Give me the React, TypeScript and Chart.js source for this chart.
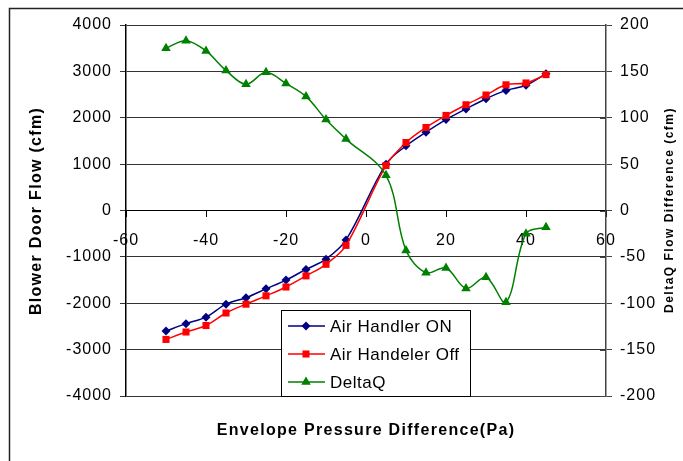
import { useEffect, useRef } from 'react';
import { Chart, registerables } from 'chart.js';

Chart.register(...registerables);

const pressures = [-50, -45, -40, -35, -30, -25, -20, -15, -10, -5, 5, 10, 15, 20, 25, 30, 35, 40, 45];
const airHandlerOn = [-2600, -2440, -2300, -2020, -1880, -1690, -1500, -1270, -1050, -635, 1000, 1394, 1690, 1960, 2190, 2410, 2590, 2700, 2950];
const airHandlerOff = [-2780, -2620, -2480, -2210, -2020, -1840, -1650, -1410, -1160, -752, 970, 1465, 1790, 2050, 2280, 2490, 2710, 2750, 2930];
const deltaQ = [175, 183, 172, 151, 136, 149, 137, 123, 98, 77, 38, -43, -67, -62, -84, -72, -99, -25, -18];

const seriesLabels = ['Air Handler ON', 'Air Handeler Off', 'DeltaQ'];
const xTitle = 'Envelope Pressure Difference(Pa)';
const yTitle = 'Blower Door Flow (cfm)';
const y1Title = 'DeltaQ Flow Difference (cfm)';

const FONT = "'Liberation Sans', Arial, sans-serif";

function drawMarker(ctx: CanvasRenderingContext2D, style: string, x: number, y: number, r: number, color: string) {
  ctx.fillStyle = color;
  ctx.beginPath();
  if (style === 'rectRot') {
    ctx.moveTo(x, y - r);
    ctx.lineTo(x + r, y);
    ctx.lineTo(x, y + r);
    ctx.lineTo(x - r, y);
  } else if (style === 'rect') {
    const s = r * Math.SQRT1_2;
    ctx.rect(x - s, y - s, 2 * s, 2 * s);
  } else {
    const h = r * 1.5;
    const w = r * Math.sqrt(3) / 2;
    ctx.moveTo(x, y - r);
    ctx.lineTo(x + w, y - r + h);
    ctx.lineTo(x - w, y - r + h);
  }
  ctx.closePath();
  ctx.fill();
}

const decorPlugin = {
  id: 'decor',
  beforeDraw(chart: any) {
    chart.ctx.letterSpacing = '1px';
  },
  afterDraw(chart: any) {
    const ctx: CanvasRenderingContext2D = chart.ctx;
    const area = chart.chartArea;
    ctx.save();
    ctx.letterSpacing = '0px';
    // outer frame
    ctx.strokeStyle = '#222';
    ctx.lineWidth = 1.5;
    ctx.strokeRect(9.5, 8.5, 900, 700);

    // inner half of right-axis ticks
    const y1 = chart.scales.y1;
    ctx.strokeStyle = '#444';
    ctx.lineWidth = 1;
    ctx.beginPath();
    y1.ticks.forEach((t: any) => {
      const py = Math.round(y1.getPixelForValue(t.value)) + 0.5;
      ctx.moveTo(area.right - 6, py);
      ctx.lineTo(area.right, py);
    });
    ctx.stroke();

    // titles
    ctx.fillStyle = '#000';
    ctx.textAlign = 'center';
    ctx.textBaseline = 'middle';
    ctx.font = `bold 16px ${FONT}`;
    ctx.letterSpacing = '1.3px';
    ctx.fillText(xTitle, 366, 431);
    ctx.save();
    ctx.translate(37, 211);
    ctx.rotate(-Math.PI / 2);
    ctx.fillText(yTitle, 0, 0);
    ctx.restore();
    ctx.save();
    ctx.font = `bold 12px ${FONT}`;
    ctx.letterSpacing = '1.5px';
    ctx.translate(670, 210);
    ctx.rotate(-Math.PI / 2);
    ctx.fillText(y1Title, 0, 0);
    ctx.restore();

    // legend
    const lx = 281.5, ly = 310.5, lw = 189, lh = 86;
    ctx.fillStyle = '#fff';
    ctx.fillRect(lx, ly, lw, lh);
    ctx.strokeStyle = '#000';
    ctx.lineWidth = 1;
    ctx.strokeRect(lx, ly, lw, lh);
    const rows = [326, 354, 382];
    chart.data.datasets.forEach((ds: any, i: number) => {
      const yy = rows[i];
      ctx.strokeStyle = ds.borderColor;
      ctx.lineWidth = 1.5;
      ctx.beginPath();
      ctx.moveTo(288, yy);
      ctx.lineTo(325, yy);
      ctx.stroke();
      drawMarker(ctx, ds.pointStyle, 306, yy, ds.pointRadius, ds.borderColor);
      ctx.fillStyle = '#000';
      ctx.textAlign = 'left';
      ctx.font = `17px ${FONT}`;
      ctx.letterSpacing = '0.5px';
      ctx.fillText(ds.label, 330, yy + 1);
    });
    ctx.restore();
  },
};

const plain = (v: any) => String(v);

export default function App() {
  const ref = useRef<HTMLCanvasElement>(null);
  useEffect(() => {
    const canvas = ref.current!;
    const tickFont = { family: FONT, size: 16 };
    const chart = new Chart(canvas, {
      type: 'line',
      data: {
        datasets: [
          {
            label: seriesLabels[0],
            data: pressures.map((x, i) => ({ x, y: airHandlerOn[i] })),
            borderColor: '#000080',
            backgroundColor: '#000080',
            pointStyle: 'rectRot',
            pointRadius: 4.5,
            pointBorderWidth: 0,
            borderWidth: 1.5,
            tension: 0.35,
            yAxisID: 'y',
            order: 2,
          },
          {
            label: seriesLabels[1],
            data: pressures.map((x, i) => ({ x, y: airHandlerOff[i] })),
            borderColor: '#ff0000',
            backgroundColor: '#ff0000',
            pointStyle: 'rect',
            pointRadius: 5,
            pointBorderWidth: 0,
            borderWidth: 1.5,
            tension: 0.35,
            yAxisID: 'y',
            order: 1,
          },
          {
            label: seriesLabels[2],
            data: pressures.map((x, i) => ({ x, y: deltaQ[i] })),
            borderColor: '#008000',
            backgroundColor: '#008000',
            pointStyle: 'triangle',
            pointRadius: 5.5,
            pointBorderWidth: 0,
            borderWidth: 1.5,
            tension: 0.35,
            yAxisID: 'y1',
            order: 0,
          },
        ] as any,
      },
      options: {
        responsive: false,
        animation: false,
        layout: { padding: { top: 25, bottom: 65, left: 0, right: 0 } },
        plugins: { legend: { display: false }, tooltip: { enabled: false } },
        scales: {
          x: {
            type: 'linear',
            min: -60,
            max: 60,
            position: { y: 0 } as any,
            ticks: { stepSize: 20, font: tickFont, color: '#000', padding: 14, maxRotation: 0, autoSkip: false, callback: plain },
            grid: { drawOnChartArea: false, drawTicks: true, tickLength: 6, color: '#000' },
            border: { color: '#000', width: 1 },
          },
          y: {
            type: 'linear',
            position: 'left',
            min: -4000,
            max: 4000,
            ticks: { stepSize: 1000, font: tickFont, color: '#000', padding: 8, callback: plain },
            grid: { color: '#333', tickColor: '#333', tickLength: 6 },
            border: { color: '#000', width: 1.5 },
            afterFit: (s: any) => { s.width = 126; },
          },
          y1: {
            type: 'linear',
            position: 'right',
            min: -200,
            max: 200,
            ticks: { stepSize: 50, font: tickFont, color: '#000', padding: 8, callback: plain },
            grid: { drawOnChartArea: false, tickLength: 6, color: '#444' },
            border: { color: '#444', width: 1.5 },
            afterFit: (s: any) => { s.width = 77; },
          },
        },
      },
      plugins: [decorPlugin],
    });
    return () => chart.destroy();
  }, []);
  return (
    <div style={{ position: 'absolute', left: 0, top: 0, width: 683, height: 461, background: '#fff' }}>
      <canvas ref={ref} width={683} height={461} style={{ display: 'block' }} />
    </div>
  );
}
